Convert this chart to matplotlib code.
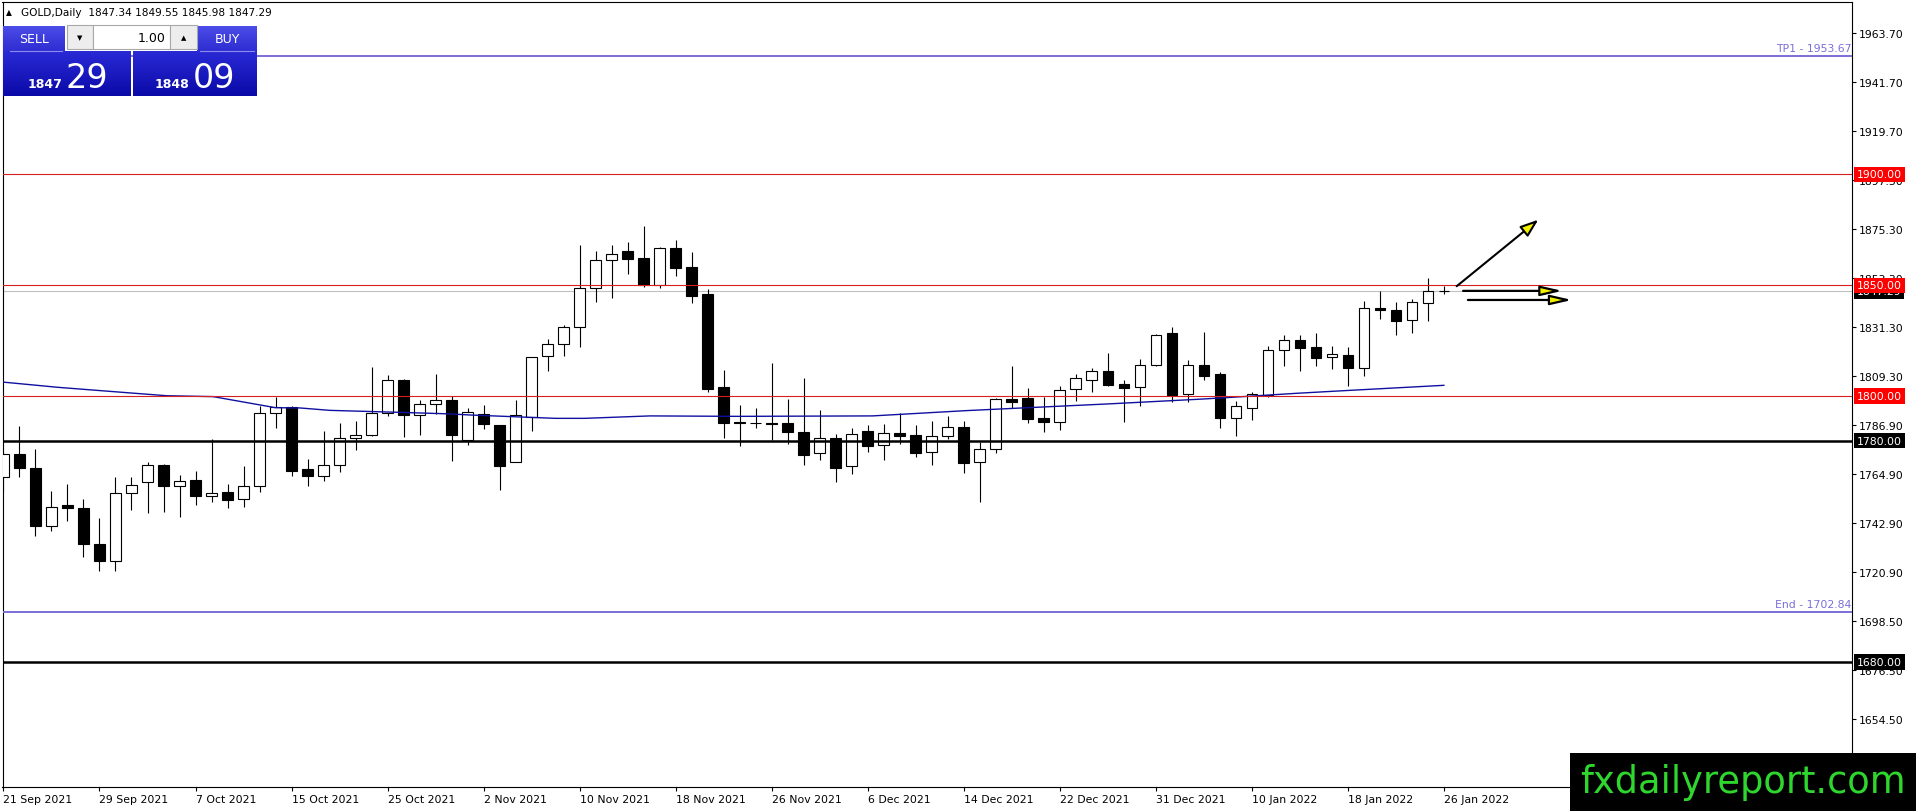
import matplotlib
matplotlib.use('Agg')
import numpy as np
import matplotlib.pyplot as plt
import matplotlib.transforms as mtransforms
from matplotlib.patches import Rectangle
from matplotlib.colors import LinearSegmentedColormap

# daily GOLD bars (bar 0 = 21 Sep 2021, bar 90 = 26 Jan 2022)
opens = [1763.4, 1773.9, 1767.6, 1741.6, 1750.9, 1749.6, 1733.3, 1725.5, 1756.2, 1761.2,
         1769.0, 1759.4, 1762.1, 1754.8, 1756.8, 1753.5, 1759.5, 1792.3, 1795.1, 1767.0,
         1764.0, 1768.8, 1781.0, 1782.4, 1792.3, 1807.3, 1791.7, 1796.3, 1798.3, 1780.1,
         1791.8, 1787.0, 1770.5, 1790.8, 1818.0, 1823.4, 1831.1, 1848.7, 1861.3, 1865.4,
         1862.3, 1850.0, 1866.9, 1858.3, 1846.1, 1804.0, 1788.2, 1788.1, 1787.9, 1787.8,
         1783.9, 1774.2, 1781.0, 1768.4, 1784.2, 1777.9, 1783.3, 1782.5, 1774.7, 1782.2,
         1786.0, 1770.2, 1776.2, 1798.6, 1799.2, 1790.2, 1788.2, 1803.1, 1807.2, 1811.2,
         1805.5, 1804.0, 1814.2, 1828.5, 1800.9, 1814.1, 1810.0, 1790.0, 1794.5, 1800.7,
         1820.7, 1825.2, 1822.2, 1817.5, 1818.6, 1812.9, 1839.8, 1838.7, 1834.2, 1842.2,
         1847.34]
highs = [1775.4, 1786.6, 1776.2, 1757.1, 1760.3, 1753.6, 1745.1, 1763.7, 1763.7, 1770.2,
         1769.4, 1764.5, 1766.3, 1780.7, 1760.4, 1768.5, 1795.6, 1799.8, 1795.7, 1771.7,
         1784.2, 1787.9, 1788.8, 1813.2, 1809.7, 1807.8, 1798.3, 1810.2, 1800.3, 1794.8,
         1796.0, 1787.0, 1798.5, 1817.5, 1825.8, 1832.3, 1868.2, 1865.7, 1868.2, 1869.7,
         1876.9, 1867.2, 1870.5, 1865.2, 1848.4, 1811.7, 1796.0, 1794.5, 1815.0, 1798.8,
         1808.2, 1793.8, 1783.0, 1785.7, 1787.0, 1787.4, 1792.4, 1787.0, 1788.8, 1790.9,
         1788.8, 1779.5, 1799.2, 1813.6, 1803.7, 1799.8, 1804.5, 1809.9, 1812.7, 1819.5,
         1807.2, 1816.8, 1827.9, 1831.2, 1816.3, 1829.0, 1810.8, 1797.8, 1802.1, 1822.7,
         1827.6, 1827.6, 1828.5, 1822.8, 1822.2, 1842.8, 1847.4, 1842.6, 1843.9, 1853.2,
         1849.55]
lows = [1757.0, 1763.7, 1737.1, 1739.4, 1743.9, 1727.3, 1721.0, 1721.3, 1748.7, 1747.2,
        1747.9, 1745.4, 1751.1, 1752.4, 1749.4, 1749.9, 1757.0, 1785.7, 1764.2, 1759.4,
        1761.9, 1765.8, 1775.6, 1782.2, 1791.2, 1781.5, 1782.7, 1792.0, 1770.9, 1778.0,
        1785.2, 1757.9, 1770.2, 1784.5, 1811.5, 1818.3, 1822.1, 1842.4, 1844.3, 1855.1,
        1849.1, 1849.0, 1854.4, 1842.2, 1801.8, 1781.3, 1777.7, 1785.5, 1780.2, 1778.4,
        1769.1, 1771.4, 1761.2, 1764.9, 1775.0, 1771.4, 1778.4, 1772.4, 1769.1, 1780.7,
        1765.5, 1752.4, 1774.5, 1794.5, 1787.8, 1784.0, 1784.9, 1797.8, 1802.1, 1804.6,
        1788.5, 1795.4, 1813.8, 1797.5, 1797.5, 1807.5, 1785.5, 1781.9, 1789.4, 1799.5,
        1813.8, 1811.5, 1813.8, 1812.3, 1804.8, 1809.3, 1834.8, 1827.8, 1828.7, 1834.1,
        1845.98]
closes = [1773.9, 1767.5, 1741.6, 1749.9, 1749.4, 1733.1, 1725.5, 1756.2, 1759.8, 1768.8,
          1759.4, 1761.9, 1754.8, 1756.5, 1753.3, 1759.5, 1792.3, 1795.0, 1766.4, 1764.2,
          1768.8, 1781.0, 1782.4, 1792.3, 1807.2, 1791.7, 1796.3, 1798.1, 1782.7, 1792.7,
          1787.3, 1768.7, 1791.4, 1817.5, 1823.4, 1831.2, 1848.7, 1861.4, 1864.0, 1861.9,
          1850.0, 1866.9, 1858.0, 1845.4, 1803.3, 1788.1, 1787.9, 1787.9, 1787.6, 1783.7,
          1773.6, 1781.0, 1767.8, 1782.8, 1777.7, 1783.3, 1782.2, 1774.5, 1781.9, 1786.0,
          1770.0, 1776.2, 1798.8, 1797.5, 1789.9, 1788.5, 1802.7, 1808.1, 1811.2, 1805.2,
          1803.9, 1813.9, 1827.5, 1800.7, 1813.9, 1809.3, 1790.3, 1795.7, 1800.9, 1820.7,
          1825.2, 1821.9, 1817.1, 1818.9, 1812.9, 1839.8, 1838.7, 1834.1, 1842.4, 1847.3,
          1847.29]

# moving average, read at a handful of bars
ma_bar = [-0.1, 3.4, 6.6, 10.2, 13.1, 17.0, 18.5, 20.4, 24.8, 27.9, 29.2, 34.5, 36.3,
          40.4, 45.9, 54.3, 60.2, 63.1, 69.0, 74.9, 77.9, 80.8, 83.8, 90.0]
ma_val = [1806.4, 1804.0, 1802.2, 1800.2, 1799.8, 1794.8, 1794.7, 1793.6, 1792.7, 1792.0,
          1791.5, 1790.0, 1790.0, 1791.1, 1790.9, 1791.1, 1793.5, 1794.5, 1796.5, 1798.7,
          1800.0, 1801.3, 1802.5, 1804.9]

date_bars = [0, 6, 12, 18, 24, 30, 36, 42, 48, 54, 60, 66, 72, 78, 84, 90]
date_labels = ['21 Sep 2021', '29 Sep 2021', '7 Oct 2021', '15 Oct 2021', '25 Oct 2021',
               '2 Nov 2021', '10 Nov 2021', '18 Nov 2021', '26 Nov 2021', '6 Dec 2021',
               '14 Dec 2021', '22 Dec 2021', '31 Dec 2021', '10 Jan 2022', '18 Jan 2022',
               '26 Jan 2022']
price_ticks = [1963.70, 1941.70, 1919.70, 1897.30, 1875.30, 1853.30, 1831.30, 1809.30,
               1786.90, 1764.90, 1742.90, 1720.90, 1698.50, 1676.50, 1654.50]

red_levels = [1900.00, 1850.00, 1800.00]
black_levels = [1780.00, 1680.00]
tp1 = 1953.67
end_level = 1702.84
bid = 1847.29
ask = 1848.09

# drawn arrows: (tail bar, tail price, tip bar, tip price)
arrow_up = (90.8, 1849.6, 95.9, 1879.6)
arrows_flat = [(91.2, 1847.5, 97.4, 1847.5), (91.5, 1843.4, 98.0, 1843.4)]

W, H = 1916, 812
fig = plt.figure(figsize=(W / 100, H / 100), dpi=100)
fig.patch.set_facecolor('white')

ax_l, ax_r, ax_t, ax_b = 2.5, 1852, 2.7, 788
ax = fig.add_axes([ax_l / W, 1 - ax_b / H, (ax_r - ax_l) / W, (ax_b - ax_t) / H])
ax.set_xlim(-0.06, 115.5)
ax.set_ylim(1623.7, 1977.95)

x = np.arange(len(opens))
o = np.array(opens); c = np.array(closes)
up = c >= o
body_lo = np.minimum(o, c)
body_h = np.maximum(np.abs(c - o), 0.05)

ax.vlines(x, lows, highs, color='black', lw=0.8, zorder=2)
ax.bar(x, body_h, bottom=body_lo, width=0.66,
       color=np.where(up, 'white', 'black'), edgecolor='black', lw=0.8, zorder=3)

ax.plot(ma_bar, ma_val, color='#1010A0', lw=1.0, zorder=4)

# horizontal levels
for lv in red_levels:
    ax.axhline(lv, color='#D42020', lw=0.8, zorder=5)
for lv in black_levels:
    ax.axhline(lv, color='black', lw=1.8, zorder=5)
ax.axhline(bid, color='#C0C0C0', lw=0.8, zorder=1)
for lv in (tp1, end_level):
    ax.axhline(lv, color='#7B6FD8', lw=1.4, zorder=5)
ax.text(115.45, tp1 + 1.0, f'TP1 - {tp1:.2f}', color='#7B6FD8', fontsize=7.8,
        ha='right', va='bottom', zorder=6)
ax.text(115.45, end_level + 1.0, f'End - {end_level:.2f}', color='#7B6FD8', fontsize=7.8,
        ha='right', va='bottom', zorder=6)

# arrows
ax.annotate('', xy=arrow_up[2:], xytext=arrow_up[:2],
            arrowprops=dict(arrowstyle='-|>,head_length=1.1,head_width=0.4',
                            fc='#F0F000', ec='black', lw=1.5, shrinkA=0, shrinkB=0,
                            mutation_scale=10), zorder=7)
for tx, ty, hx, hy in arrows_flat:
    ax.annotate('', xy=(hx, hy), xytext=(tx, ty),
                arrowprops=dict(arrowstyle='-|>,head_length=1.3,head_width=0.3',
                                fc='#F0F000', ec='black', lw=1.6, shrinkA=0, shrinkB=0,
                                mutation_scale=10), zorder=7)

# axes cosmetics
for sp in ax.spines.values():
    sp.set_color('black'); sp.set_linewidth(0.8)
ax.yaxis.tick_right()
ax.set_yticks(price_ticks, [f'{v:.2f}' for v in price_ticks])
ax.set_xticks(date_bars, date_labels)
ax.tick_params(axis='both', length=3, width=0.8, pad=2, labelsize=7.8, colors='black')
for lbl in ax.get_xticklabels():
    lbl.set_ha('left')

# boxed price labels on the right scale (bid box sits partly under the 1850 box)
blend = mtransforms.blended_transform_factory(ax.transAxes, ax.transData)
lab_x = 1 + 5 / (ax_r - ax_l)
ax.text(lab_x, bid, f'{bid:.2f}', transform=blend, ha='left', va='center', fontsize=7.8,
        color='white', bbox=dict(boxstyle='square,pad=0.25', fc='black', ec='none'),
        clip_on=False, zorder=8)
for lv in black_levels:
    ax.text(lab_x, lv, f'{lv:.2f}', transform=blend, ha='left', va='center', fontsize=7.8,
            color='white', bbox=dict(boxstyle='square,pad=0.25', fc='black', ec='none'),
            clip_on=False, zorder=8)
for lv in red_levels:
    ax.text(lab_x, lv, f'{lv:.2f}', transform=blend, ha='left', va='center', fontsize=7.8,
            color='white', bbox=dict(boxstyle='square,pad=0.25', fc='#FF0000', ec='none'),
            clip_on=False, zorder=9)

# overlay in pixel coords: quote header, trade panel, watermark
ov = fig.add_axes([0, 0, 1, 1], zorder=10)
ov.patch.set_alpha(0)
ov.axis('off')

ov.text(6, 13, '▲', fontsize=5.5, va='center', ha='left')
ov.text(21, 13, 'GOLD,Daily  ' + ' '.join(f'{v:.2f}' for v in
        (opens[-1], highs[-1], lows[-1], closes[-1])), fontsize=7.6, va='center', ha='left')

head_cm = LinearSegmentedColormap.from_list('head', ['#4C4CE8', '#2E2ED2'])
box_cm = LinearSegmentedColormap.from_list('box', ['#2A2AD6', '#0A0AA8'])
grad = np.linspace(0, 1, 64).reshape(-1, 1)
for x0, x1 in ((3, 65), (197, 257)):
    ov.imshow(grad, cmap=head_cm, extent=(x0, x1, 52, 27), aspect='auto', zorder=1)
for x0, x1 in ((3, 131), (133, 257)):
    ov.imshow(grad, cmap=box_cm, extent=(x0, x1, 97, 52), aspect='auto', zorder=1)
ov.plot([10, 62], [52, 52], color='#8C8CF0', lw=0.8, zorder=2)
ov.plot([200, 254], [52, 52], color='#8C8CF0', lw=0.8, zorder=2)
ov.text(34, 39.5, 'SELL', color='white', fontsize=9, ha='center', va='center', zorder=3)
ov.text(227, 39.5, 'BUY', color='white', fontsize=9, ha='center', va='center', zorder=3)
ov.add_patch(Rectangle((67, 26), 26, 24, fc='#EDEDED', ec='#A8A8A8', lw=0.8, zorder=2))
ov.add_patch(Rectangle((93, 26), 77, 24, fc='white', ec='#A8A8A8', lw=0.8, zorder=2))
ov.add_patch(Rectangle((170, 26), 27, 24, fc='#EDEDED', ec='#A8A8A8', lw=0.8, zorder=2))
ov.text(80, 38, '▼', fontsize=5, ha='center', va='center', zorder=3)
ov.text(183.5, 38, '▲', fontsize=5, ha='center', va='center', zorder=3)
ov.text(166, 38, '1.00', fontsize=9, ha='right', va='center', zorder=3)

for px, val in ((62, bid), (189, ask)):
    big, small = f'{val:.2f}'.split('.')
    ov.text(px, 88, big, color='white', fontsize=9, fontweight='bold', ha='right',
            va='baseline', zorder=3)
    ov.text(px + 4, 88, small, color='white', fontsize=24, ha='left', va='baseline',
            zorder=3)

ov.add_patch(Rectangle((1570, 754), 346, 58, fc='black', ec='none', zorder=2))
ov.text(1743, 783, 'fxdailyreport.com', color='#2ED62E', fontsize=26.5, ha='center',
        va='center', zorder=3)

ov.set_xlim(0, W)
ov.set_ylim(H, 0)

fig.savefig('out.png', dpi=100)
